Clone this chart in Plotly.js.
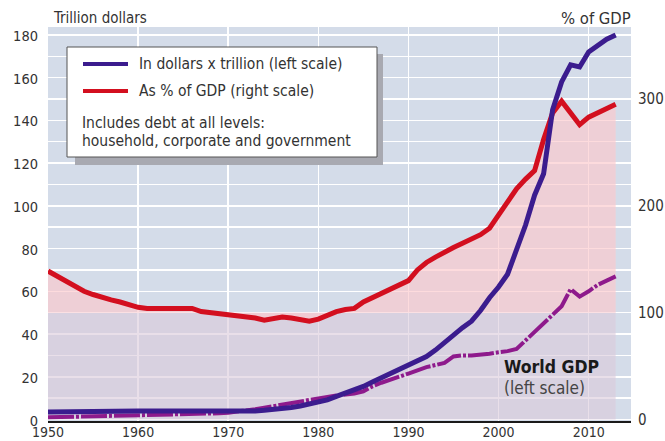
<!DOCTYPE html>
<html><head><meta charset="utf-8">
<script src="https://cdn.plot.ly/plotly-3.0.1.min.js"></script>
<style>html,body{margin:0;padding:0;background:#fff}#chart{width:665px;height:441px}</style>
</head><body><div id="chart"></div>
<script>
const years = [1950,1951,1952,1953,1954,1955,1956,1957,1958,1959,
  1960,1961,1962,1963,1964,1965,1966,1967,1968,1969,
  1970,1971,1972,1973,1974,1975,1976,1977,1978,1979,
  1980,1981,1982,1983,1984,1985,1986,1987,1988,1989,
  1990,1991,1992,1993,1994,1995,1996,1997,1998,1999,
  2000,2001,2002,2003,2004,2005,2006,2007,2008,2009,
  2010,2011,2012,2013];
// Debt in trillion dollars (left scale)
const debtTrillion = [3.5,3.6,3.6,3.7,3.7,3.8,3.8,3.9,3.9,3.9,
  4.0,4.0,4.0,4.0,4.0,3.9,3.9,3.8,3.7,3.6,
  3.5,3.6,3.8,4.0,4.3,4.6,5.1,5.6,6.3,7.1,
  8.0,9.2,10.8,12.3,13.8,15.5,17.5,19.5,21.5,23.5,
  25.5,27.5,29.5,32.5,36,40,43,46,51,57,
  62,68,80,91,105,115,145,158,166,165,
  172,175,178,180];
// Debt as % of GDP (right scale)
const debtPctGdp = [139,134,129,124,120,117,114,112,110,107,
  105,104,104,104,104,104,104,101,100,99,
  98,98,97,95,93,95,96,95,94,92,
  94,98,101,103,104,110,114,118,121,125,
  130,140,147,152,157,161,165,169,173,179,
  192,204,216,225,233,262,287,298,286,276,
  283,287,291,295];
// World GDP in trillion dollars (left scale)
const worldGdp = [1.0,1.1,1.2,1.3,1.3,1.4,1.4,1.5,1.5,1.6,
  1.7,1.8,1.9,2.0,2.1,2.2,2.3,2.4,2.6,2.9,
  3.2,3.6,4.1,4.8,5.5,6.2,6.9,7.6,8.5,9.3,
  10.0,10.8,11.3,11.7,12.2,13.2,15.5,17.2,18.8,20.2,
  21.5,23,24.5,25.5,26.5,29.5,30,30,30.3,30.8,
  31.5,32,33,37,40.5,45,49,53,61,57.5,
  60,63,65,67];
const xTicks = [1950,1960,1970,1980,1990,2000,2010];
const leftTicks = [0,20,40,60,80,100,120,140,160,180];
const rightTicks = [0,100,200,300];
const bandLevel = years.map(() => 100); // 100% of GDP band (right scale)

const FONT = "'DejaVu Sans Condensed','Liberation Sans Narrow','Arial Narrow',sans-serif";
const BLUE = '#3b1c8e', RED = '#d30f1f', MAG = '#8e1a8c';
const L = 48, R = 631, T = 27, B = 421;
const px = x => (x - L) / (R - L);
const py = y => (B - y) / (B - T);

// main y axis = % of GDP (right side), y2 = trillion dollars (left side), drawn above
const traces = [
  {x: years, y: bandLevel, type: 'scatter', mode: 'lines',
   line: {width: 0}, fill: 'tozeroy', fillcolor: 'rgba(219,202,219,0.6)', hoverinfo: 'skip', showlegend: false},
  {x: years, y: debtPctGdp, type: 'scatter', mode: 'lines',
   line: {width: 0}, fill: 'tonexty', fillcolor: 'rgba(252,200,204,0.66)', hoverinfo: 'skip', showlegend: false},
  {x: years, y: debtPctGdp, type: 'scatter', mode: 'lines',
   line: {color: RED, width: 5}, showlegend: false},
  {x: years, y: worldGdp, yaxis: 'y2', type: 'scatter', mode: 'lines',
   line: {color: MAG, width: 4, dash: '26px,2px,3px,2px'}, showlegend: false},
  {x: years, y: debtTrillion, yaxis: 'y2', type: 'scatter', mode: 'lines',
   line: {color: BLUE, width: 5}, showlegend: false}
];

const ann = (text, x, y, anchor, size, color) => ({
  text, x: px(x), y: py(y), xref: 'paper', yref: 'paper', xanchor: anchor, yanchor: 'middle',
  showarrow: false, font: {family: FONT, size, color}
});

const layout = {
  width: 665, height: 441,
  margin: {l: L, r: 665 - R, t: T, b: 441 - B},
  paper_bgcolor: '#ffffff', plot_bgcolor: '#d4dce9',
  font: {family: FONT, color: '#333'},
  xaxis: {range: [1950, 2014.7], tickvals: xTicks, showgrid: true, gridcolor: '#ffffff', gridwidth: 1.5,
    showline: true, linecolor: '#1a1a1a', linewidth: 2, ticks: '', zeroline: false,
    ticklabelstandoff: -3, tickfont: {family: FONT, size: 14, color: '#333'}},
  yaxis: {range: [-1.4, 367.4], tickvals: rightTicks, side: 'right', showgrid: true, gridcolor: '#ffffff', gridwidth: 1.5,
    minor: {dtick: 20, tick0: 0, showgrid: true, gridcolor: '#ffffff', gridwidth: 1.5},
    zeroline: false, ticks: '', ticklabelstandoff: 6, tickfont: {family: FONT, size: 15, color: '#333'}},
  yaxis2: {range: [-0.7, 183.7], tickvals: leftTicks, overlaying: 'y', side: 'left', showgrid: false,
    zeroline: false, ticks: '', ticklabelstandoff: 9, ticklabelshift: 1, tickfont: {family: FONT, size: 14.5, color: '#333'}},
  shapes: [
    {type: 'rect', xref: 'paper', yref: 'paper', x0: px(75), x1: px(383), y0: py(165), y1: py(54),
     fillcolor: '#a8a9b1', line: {width: 0}},
    {type: 'rect', xref: 'paper', yref: 'paper', x0: px(67), x1: px(377), y0: py(157), y1: py(47),
     fillcolor: '#ffffff', line: {color: '#555', width: 1}},
    {type: 'line', xref: 'paper', yref: 'paper', x0: px(83), x1: px(128), y0: py(64), y1: py(64),
     line: {color: BLUE, width: 4}},
    {type: 'line', xref: 'paper', yref: 'paper', x0: px(83), x1: px(128), y0: py(91), y1: py(91),
     line: {color: RED, width: 4}}
  ],
  annotations: [
    ann('Trillion dollars', 51, 18, 'left', 15, '#333'),
    ann('% of GDP', 633, 18, 'right', 16.5, '#333'),
    ann('In dollars x trillion (left scale)', 137, 64, 'left', 15.5, '#333'),
    ann('As % of GDP (right scale)', 137, 91, 'left', 15.5, '#333'),
    ann('Includes debt at all levels:', 80, 123, 'left', 15.5, '#333'),
    ann('household, corporate and government', 80, 141, 'left', 15.5, '#333'),
    ann('<b>World GDP</b>', 502, 367, 'left', 17.5, '#1a1a1a'),
    ann('(left scale)', 502, 388, 'left', 17, '#444')
  ]
};

Plotly.newPlot('chart', traces, layout, {displayModeBar: false, staticPlot: true});
</script>
</body></html>
